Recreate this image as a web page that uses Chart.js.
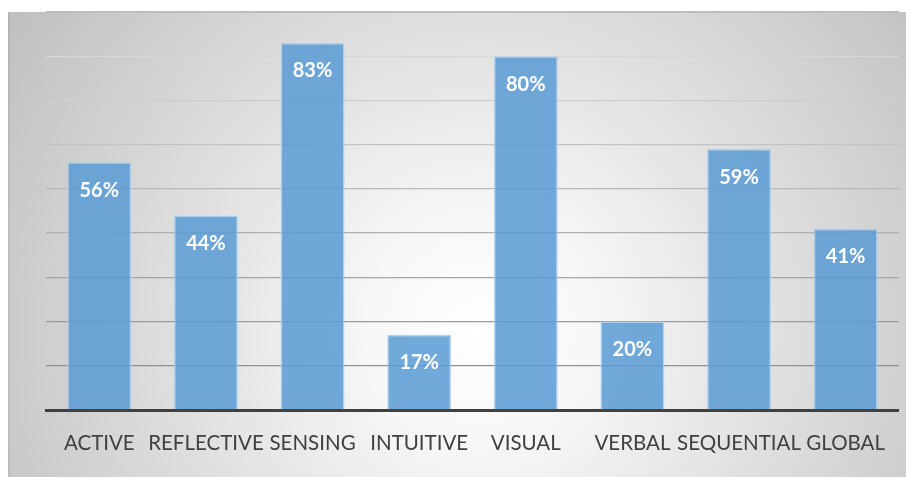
<!DOCTYPE html>
<html>
<head>
<meta charset="utf-8">
<script src="https://cdn.jsdelivr.net/npm/chart.js@4/dist/chart.umd.min.js"></script>
<style>
html,body{margin:0;padding:0;background:#fff;}
#wrap{width:906px;height:477px;position:relative;}
</style>
</head>
<body>
<div id="wrap"><canvas id="c" width="906" height="477"></canvas></div>
<script>
const categories = ["ACTIVE","REFLECTIVE","SENSING","INTUITIVE","VISUAL","VERBAL","SEQUENTIAL","GLOBAL"];
const values = [56,44,83,17,80,20,59,41];
const yMax = 90;
const yStep = 10;

const bgPlugin = {
  id: 'bg',
  beforeDraw(chart) {
    const ctx = chart.ctx;
    ctx.save();
    ctx.fillStyle = '#ffffff';
    ctx.fillRect(0, 0, chart.width, chart.height);
    const g = ctx.createRadialGradient(480, 330, 0, 480, 330, 560);
    g.addColorStop(0, '#ffffff');
    g.addColorStop(0.2, '#f7f7f7');
    g.addColorStop(1, '#c0c0c0');
    ctx.fillStyle = g;
    ctx.fillRect(8, 12, chart.width - 8, chart.height - 12);
    ctx.fillStyle = 'rgba(0,0,0,0.06)';
    ctx.fillRect(8, 12, 2, chart.height - 12);
    ctx.restore();
  }
};

const labelPlugin = {
  id: 'barLabels',
  afterDatasetsDraw(chart) {
    const ctx = chart.ctx;
    const meta = chart.getDatasetMeta(0);
    ctx.save();
    ctx.fillStyle = '#ffffff';
    ctx.font = 'bold 20px Lato';
    ctx.textAlign = 'center';
    ctx.textBaseline = 'middle';
    meta.data.forEach((bar, i) => {
      ctx.fillText(values[i] + '%', bar.x, bar.y + 28);
    });
    ctx.restore();
  }
};

new Chart(document.getElementById('c'), {
  type: 'bar',
  data: {
    labels: categories,
    datasets: [{
      data: values,
      backgroundColor: 'rgba(91,155,213,0.86)',
      borderColor: 'rgba(170,205,236,0.9)',
      borderWidth: 1.5,
      borderSkipped: 'bottom',
      categoryPercentage: 1.0,
      barPercentage: 0.6
    }]
  },
  options: {
    responsive: false,
    animation: false,
    devicePixelRatio: 1,
    layout: { padding: { left: 46, top: 12, right: -2, bottom: 0 } },
    plugins: { legend: { display: false }, tooltip: { enabled: false } },
    scales: {
      x: {
        grid: { display: false, drawTicks: false },
        border: { display: true, color: '#404040', width: 3 },
        ticks: {
          color: '#404040',
          font: { family: 'Lato', size: 20.5 },
          padding: 21,
          maxRotation: 0,
          autoSkip: false
        },
        afterFit(scale) { scale.height = 67; }
      },
      y: {
        min: 0,
        max: yMax,
        ticks: { display: false, stepSize: yStep },
        border: { display: false },
        grid: {
          drawTicks: false,
          lineWidth: (c) => (c.tick && c.tick.value === yMax) ? 2 : 1.3,
          color: (c) => {
            const v = c.tick ? c.tick.value : 0;
            if (v === yMax) return '#bdbdbd';
            const t = v / yMax;
            const s = Math.round(135 + t * 90);
            return `rgb(${s},${s},${s})`;
          }
        },
        afterFit(scale) { scale.width = 0; }
      }
    }
  },
  plugins: [bgPlugin, labelPlugin]
});
</script>
</body>
</html>
